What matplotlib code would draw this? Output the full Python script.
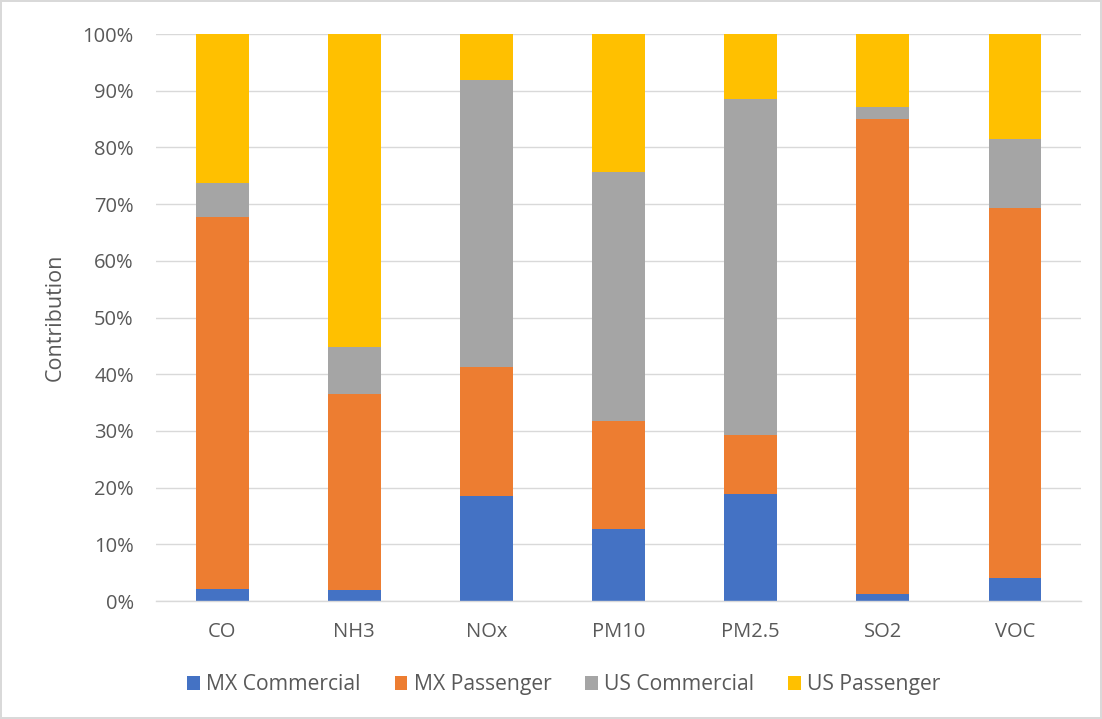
import matplotlib.pyplot as plt
from matplotlib.ticker import FuncFormatter
import numpy as np

categories = ["CO", "NH3", "NOx", "PM10", "PM2.5", "SO2", "VOC"]
mx_commercial = [2.1, 1.9, 18.6, 12.7, 18.9, 1.3, 4.1]
mx_passenger = [65.6, 34.6, 22.6, 19.0, 10.4, 83.7, 65.3]
us_commercial = [6.0, 8.3, 50.7, 44.0, 59.2, 2.1, 12.1]
us_passenger = [26.3, 55.2, 8.1, 24.3, 11.5, 12.9, 18.5]

series = [
    ("MX Commercial", mx_commercial, "#4472c4"),
    ("MX Passenger", mx_passenger, "#ed7d31"),
    ("US Commercial", us_commercial, "#a5a5a5"),
    ("US Passenger", us_passenger, "#ffc000"),
]

plt.rcParams['font.family'] = ['Open Sans', 'DejaVu Sans']
text_col = "#595959"

fig = plt.figure(figsize=(11.02, 7.19), dpi=100)
fig.patch.set_edgecolor("#d9d9d9")
fig.patch.set_linewidth(1.5)
ax = fig.add_axes([0.1416, 0.1641, 0.8394, 0.7886])

x = np.arange(len(categories))
bottom = np.zeros(len(categories))
for name, vals, col in series:
    vals = np.array(vals)
    ax.bar(x, vals, 0.4, bottom=bottom, color=col, label=name, zorder=3)
    bottom += vals

ax.set_xlim(-0.5, len(categories) - 0.5)
ax.set_ylim(0, 100)
ax.set_yticks(np.arange(0, 101, 10))
ax.yaxis.set_major_formatter(FuncFormatter(lambda v, p: "%d%%" % v))
ax.set_xticks(x)
ax.set_xticklabels(categories)
ax.grid(axis='y', color="#d9d9d9", linewidth=1, zorder=0)
for s in ['top', 'right', 'left']:
    ax.spines[s].set_visible(False)
ax.spines['bottom'].set_color("#d9d9d9")
ax.spines['bottom'].set_linewidth(1)
ax.spines['bottom'].set_zorder(4)
ax.tick_params(length=0, labelsize=14.5, colors=text_col)
ax.tick_params(axis='x', pad=15)
ax.tick_params(axis='y', pad=16)
ax.set_ylabel("Contribution", fontsize=15.5, color=text_col, labelpad=12)

ax.legend(loc='center', bbox_to_anchor=(0.441, -0.148), ncol=4, frameon=False,
          fontsize=15.2, handlelength=0.6, handleheight=0.6, handletextpad=0.3,
          columnspacing=1.6, labelcolor=text_col)

fig.savefig("out.png", dpi=100)
